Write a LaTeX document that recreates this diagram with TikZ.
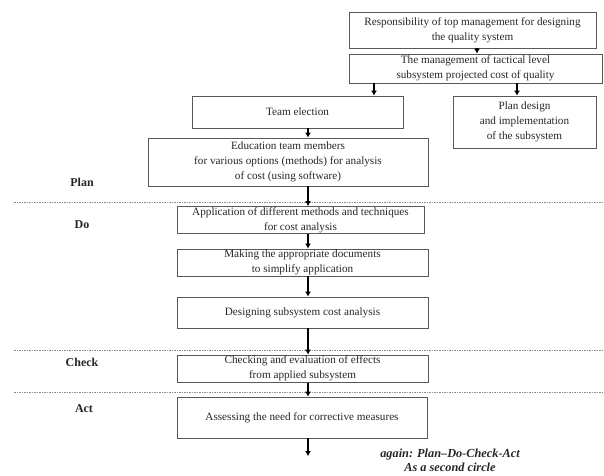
\documentclass[tikz,border=0pt]{standalone}
\usepackage{fontspec}
\setmainfont{Liberation Serif}
\usetikzlibrary{arrows.meta}
\tikzstyle{phase} = [font=\fontsize{12}{14}\selectfont\bfseries, text=black!85]
\tikzstyle{sep} = [dash pattern=on 1.5pt off 1pt, draw=black!45, line width=0.5pt]

\begin{document}
\begin{tikzpicture}[x=1pt, y=-1pt, node distance=50pt]
                    % Define styles for boxes and line
                    \tikzstyle{block} = [rectangle, draw=black!65, line width=0.7pt, text=black!85, inner sep=1pt, align=center, font=\fontsize{11.2}{15}\selectfont]
                    \tikzstyle{again_text} = [align=center, inner sep=0pt, font=\fontsize{12.3}{14}\selectfont\bfseries\itshape, text=black!85]
                    \tikzstyle{line} = [draw, line width=1.3pt, -{Latex[length=5pt, width=6pt]}]
                    \useasboundingbox (0,0) rectangle (604,475);

                    % Place nodes
                    \node [block, minimum width=247pt, minimum height=36pt] (resp) at (472.5,30) {Responsibility of top management for designing\\the quality system};
                    \node [block, minimum width=253pt, minimum height=29pt, below of=resp, node distance=38.5pt, xshift=3pt] (tactical) {The management of tactical level\\subsystem projected cost of quality};
                    \node [block, minimum width=143pt, minimum height=52pt, below of=tactical, node distance=53.5pt, xshift=49pt] (plan_design) {Plan design\\and implementation\\of the subsystem};
                    \node [block, minimum width=211pt, minimum height=32pt] (team) at (297.5,112) {Team election};
                    \node [block, minimum width=280pt, minimum height=48pt, below of=team, node distance=50pt, xshift=-9.5pt] (education) {Education team members\\for various options (methods) for analysis\\of cost (using software)};
                    \node [block, minimum width=247pt, minimum height=26pt, below of=education, node distance=58pt, xshift=12.5pt] (application) {Application of different methods and techniques\\for cost analysis};
                    \node [block, minimum width=251pt, minimum height=27pt, below of=application, node distance=42.5pt, xshift=2pt] (documents) {Making the appropriate documents\\to simplify application};
                    \node [block, minimum width=251pt, minimum height=31pt, below of=documents, node distance=50pt] (designing) {Designing subsystem cost analysis};
                    \node [block, minimum width=251pt, minimum height=27pt, below of=designing, node distance=56pt] (checking) {Checking and evaluation of effects\\from applied subsystem};
                    \node [block, minimum width=250pt, minimum height=41pt, below of=checking, node distance=49pt, xshift=-0.5pt] (assessing) {Assessing the need for corrective measures};

                    % Phase labels and separators
                    \node [phase] (plan) at (82,182) {Plan};
                    \node [phase] (do) at (82,225) {Do};
                    \node [phase] (check) at (82,362) {Check};
                    \node [phase] (act) at (84,409) {Act};
                    \draw [sep] (14,202) -- (604,202);
                    \draw [sep] (14,350) -- (604,350);
                    \draw [sep] (14,392) -- (604,392);
                    \node [again_text] (again) at (450,460.5) {again: Plan--Do-Check-Act\\As a second circle};

                    % Arrow columns
                    \coordinate (col) at (308,0);
                    \coordinate (left_out) at (374,0);
                    \coordinate (right_out) at (517,0);
                    \coordinate (top_out) at (477,0);
                    \coordinate (next_circle) at (308,456);

                    % Draw edges
                    \path [line] (resp.south -| top_out) -- (tactical.north -| top_out);
                    \path [line] (tactical.south -| left_out) -- (team.north -| left_out);
                    \path [line] (tactical.south -| right_out) -- (plan_design.north -| right_out);
                    \path [line] (team.south -| col) -- (education.north -| col);
                    \path [line] (education.south -| col) -- (application.north -| col);
                    \path [line] (application.south -| col) -- (documents.north -| col);
                    \path [line] (documents.south -| col) -- (designing.north -| col);
                    \path [line] (designing.south -| col) -- (checking.north -| col);
                    \path [line] (checking.south -| col) -- (assessing.north -| col);
                    \path [line] (assessing.south -| col) -- (next_circle);
                \end{tikzpicture}
\end{document}
